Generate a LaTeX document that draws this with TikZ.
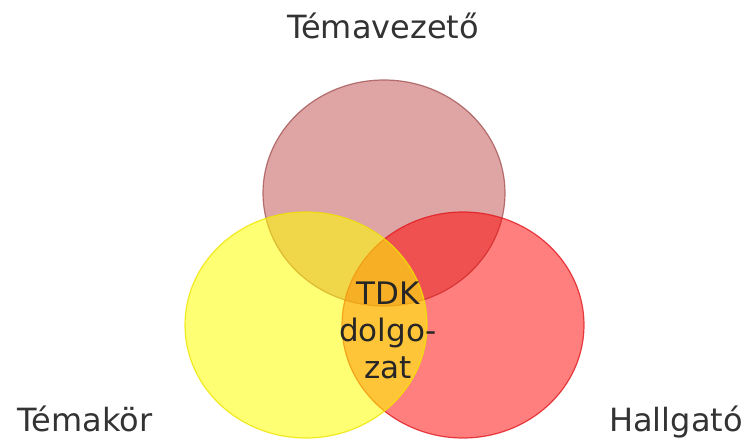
\documentclass[tikz,border=0pt]{standalone}
\usepackage{fontspec}
\setmainfont{DejaVu Sans}
\usepackage{tikz}
\usetikzlibrary{shapes.geometric}
\definecolor{rosefill}{RGB}{196,90,90}
\definecolor{roseline}{RGB}{165,85,85}
\definecolor{yelfill}{RGB}{255,255,0}
\definecolor{yelline}{RGB}{238,228,0}
\definecolor{redfill}{RGB}{255,0,0}
\definecolor{redline}{RGB}{225,25,30}
\tikzstyle{circ}=[ellipse, draw, line width=1.2pt, minimum width=242pt, minimum height=226pt, inner sep=0pt]
\tikzstyle{side}=[anchor=base, text=black!80, font=\fontsize{32}{38}\selectfont]

\begin{document}
\begin{tikzpicture}[x=1pt,y=1pt]
            \useasboundingbox (0,0) rectangle (742,441);
            \node [circ, fill=rosefill, fill opacity=0.55, draw=roseline, draw opacity=0.8] (V) at (384,248) {};
            \node [circ, fill=redfill, fill opacity=0.5, draw=redline, draw opacity=0.8, below of=V, node distance=132pt, xshift=79pt] (H) {};
            \node [circ, fill=yelfill, fill opacity=0.55, draw=yelline, draw opacity=0.8, left of=H, node distance=157pt] (K) {};
            \node [align=center, text=black!85, font=\fontsize{31}{37}\selectfont] (T) at (388,111) {TDK\\dolgo-\\zat};
            \node [side] (tv) at (383,402) {Témavezető};
            \node [side] (tk) at (85,9) {Témakör};
            \node [side] (hg) at (676,9) {Hallgató};
        \end{tikzpicture}
\end{document}
